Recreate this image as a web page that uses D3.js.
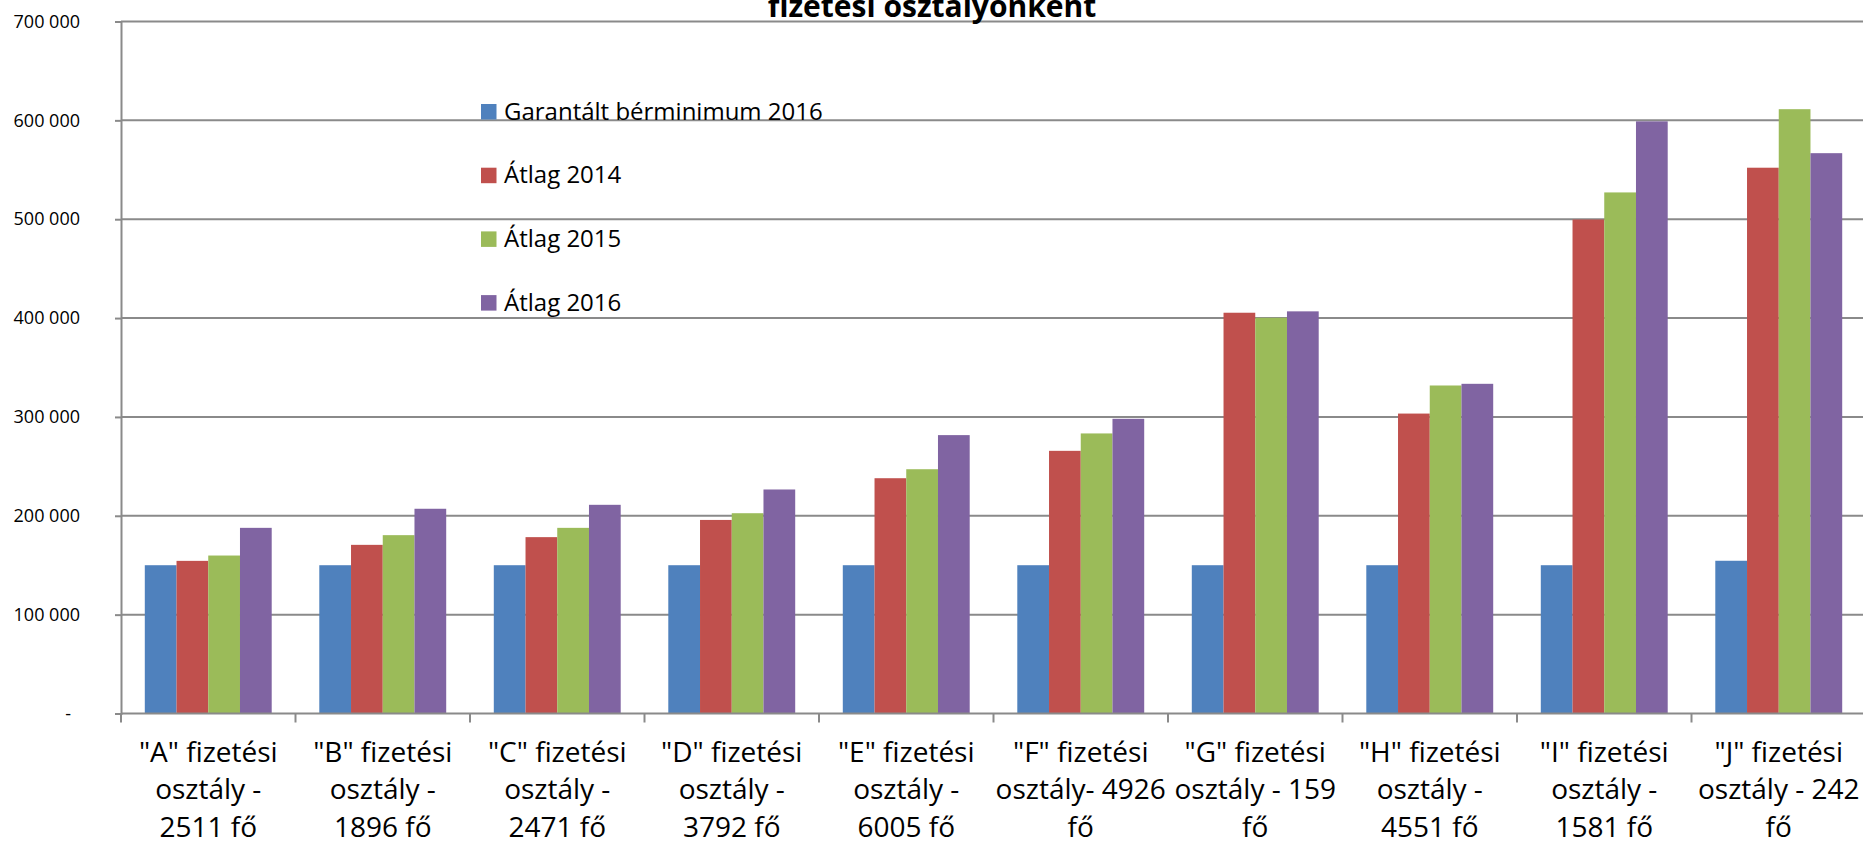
<!DOCTYPE html>
<html>
<head>
<meta charset="utf-8">
<script src="https://cdn.jsdelivr.net/npm/d3@7"></script>
<style>
  html, body { margin: 0; padding: 0; background: #fff; overflow: hidden; }
  svg { display: block; font-family: "Open Sans", "Noto Sans", "Liberation Sans", sans-serif; }
</style>
</head>
<body>
<svg id="chart" width="1863" height="845"></svg>
<script>
// ---- data ----
const categories = ["A", "B", "C", "D", "E", "F", "G", "H", "I", "J"];
const categoryLabels = [
  ['"A" fizetési', 'osztály -', '2511 fő'],
  ['"B" fizetési', 'osztály -', '1896 fő'],
  ['"C" fizetési', 'osztály -', '2471 fő'],
  ['"D" fizetési', 'osztály -', '3792 fő'],
  ['"E" fizetési', 'osztály -', '6005 fő'],
  ['"F" fizetési', 'osztály- 4926', 'fő'],
  ['"G" fizetési', 'osztály - 159', 'fő'],
  ['"H" fizetési', 'osztály -', '4551 fő'],
  ['"I" fizetési', 'osztály -', '1581 fő'],
  ['"J" fizetési', 'osztály - 242', 'fő']
];
const seriesNames = ["Garantált bérminimum 2016", "Átlag 2014", "Átlag 2015", "Átlag 2016"];
const garantalt2016 = [150000, 150000, 150000, 150000, 150000, 150000, 150000, 150000, 150000, 154500];
const atlag2014     = [154400, 170600, 178400, 195800, 238000, 265700, 405400, 303400, 499700, 552100];
const atlag2015     = [159800, 180400, 187800, 202600, 247100, 283300, 400300, 331800, 527100, 611300];
const atlag2016     = [187800, 207100, 211100, 226600, 281600, 298100, 406800, 333500, 599000, 566800];
const seriesColors  = ["#4F81BD", "#C0504D", "#9BBB59", "#8064A2"];
const yTickValues   = [0, 100000, 200000, 300000, 400000, 500000, 600000, 700000];
const yTickLabels   = ["-", "100 000", "200 000", "300 000", "400 000", "500 000", "600 000", "700 000"];
const titleText     = "fizetési osztályonként";

// ---- layout ----
const svg = d3.select("#chart");
const plot = { left: 121, right: 1866, top: 21.5, bottom: 713.5 };
const gridColor = "#8a8a8a";

const seriesValues = [garantalt2016, atlag2014, atlag2015, atlag2016];
const rows = categories.map((c, i) => ({
  cat: c,
  vals: seriesNames.map((s, j) => ({ key: s, value: seriesValues[j][i], color: seriesColors[j] }))
}));

const x0 = d3.scaleBand().domain(categories).range([plot.left, plot.right]).paddingInner(0).paddingOuter(0);
const x1 = d3.scaleBand().domain(seriesNames).range([0, x0.bandwidth()]).paddingInner(0).paddingOuter(0.75);
const y = d3.scaleLinear().domain([0, 700000]).range([plot.bottom, plot.top]);

// gridlines
svg.append("g")
  .selectAll("line")
  .data(yTickValues.filter(v => v > 0))
  .join("line")
  .attr("x1", plot.left).attr("x2", plot.right)
  .attr("y1", d => y(d)).attr("y2", d => y(d))
  .attr("stroke", gridColor).attr("stroke-width", 2);

// y axis
const yAxis = d3.axisLeft(y)
  .tickValues(yTickValues)
  .tickFormat((d, i) => yTickLabels[i])
  .tickSize(6)
  .tickPadding(0);
const yg = svg.append("g").attr("transform", `translate(${plot.left},0)`).call(yAxis);
yg.select(".domain").attr("stroke", gridColor).attr("stroke-width", 2);
yg.selectAll(".tick line").attr("stroke", gridColor).attr("stroke-width", 2);
yg.selectAll(".tick text")
  .attr("x", -41)
  .attr("dx", (d) => d === 0 ? -9 : 0)
  .attr("fill", "#000")
  .style("font-size", "18px")
  .style("font-family", '"Open Sans", "Noto Sans", sans-serif');

// bars
svg.append("g")
  .selectAll("g")
  .data(rows)
  .join("g")
  .attr("transform", d => `translate(${x0(d.cat)},0)`)
  .selectAll("rect")
  .data(d => d.vals)
  .join("rect")
  .attr("x", d => x1(d.key))
  .attr("width", x1.bandwidth())
  .attr("y", d => y(d.value))
  .attr("height", d => y(0) - y(d.value))
  .attr("fill", d => d.color);

// x axis (ticks at band boundaries)
svg.append("line")
  .attr("x1", plot.left).attr("x2", plot.right)
  .attr("y1", y(0)).attr("y2", y(0))
  .attr("stroke", gridColor).attr("stroke-width", 2);
svg.append("g")
  .selectAll("line")
  .data(categories)
  .join("line")
  .attr("x1", d => x0(d)).attr("x2", d => x0(d))
  .attr("y1", y(0)).attr("y2", y(0) + 9)
  .attr("stroke", gridColor).attr("stroke-width", 2);

// category labels
const labG = svg.append("g")
  .selectAll("text")
  .data(categories)
  .join("text")
  .attr("text-anchor", "middle")
  .attr("fill", "#000")
  .style("font-size", "28px");
labG.each(function(d, i) {
  const t = d3.select(this);
  const cx = x0(d) + x0.bandwidth() / 2;
  categoryLabels[i].forEach((line, k) => {
    t.append("tspan").attr("x", cx).attr("y", 762 + k * 37.3).text(line);
  });
});

// title (only lower line visible)
svg.append("text")
  .attr("x", 932).attr("y", 17)
  .attr("text-anchor", "middle")
  .attr("font-weight", "bold")
  .attr("fill", "#000")
  .style("font-size", "30px")
  .text(titleText);

// legend
const legend = svg.append("g").attr("transform", "translate(481,104)");
const li = legend.selectAll("g")
  .data(seriesNames)
  .join("g")
  .attr("transform", (d, i) => `translate(0,${i * 63.7})`);
li.append("rect").attr("width", 15.5).attr("height", 15.5).attr("fill", (d, i) => seriesColors[i]);
li.append("text")
  .attr("x", 23).attr("y", 15.5)
  .attr("fill", "#000")
  .style("font-size", "24px")
  .text(d => d);
</script>
</body>
</html>
